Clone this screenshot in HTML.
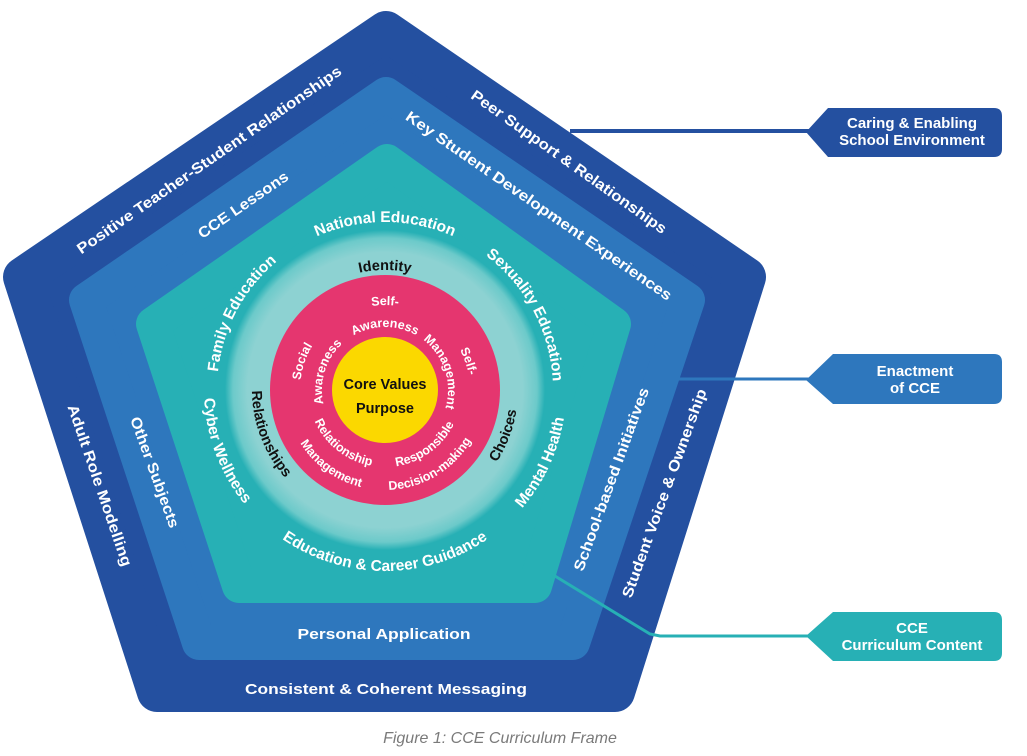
<!DOCTYPE html>
<html><head><meta charset="utf-8"><style>
html,body{margin:0;padding:0;background:#fff;width:1027px;height:756px;overflow:hidden}
svg{display:block}
text{font-family:"Liberation Sans",sans-serif;font-weight:bold}
</style></head><body>
<svg width="1027" height="756" viewBox="0 0 1027 756" xmlns="http://www.w3.org/2000/svg">
<defs>
<radialGradient id="glow" cx="50%" cy="50%" r="50%">
<stop offset="0.86" stop-color="#8dd2d2"/><stop offset="0.95" stop-color="#6ccaca"/><stop offset="1" stop-color="#27b0b5"/>
</radialGradient>
<path id="tT" d="M385,558 A168,168 0 1 1 385,222 A168,168 0 1 1 385,558"/>
<path id="tB" d="M385,209 A181,181 0 1 0 385,571 A181,181 0 1 0 385,209"/>
<path id="lT" d="M385,510 A120,120 0 1 1 385,270 A120,120 0 1 1 385,510"/>
<path id="lB" d="M385,257 A133,133 0 1 0 385,523 A133,133 0 1 0 385,257"/>
<path id="pT1" d="M385,475 A85,85 0 1 1 385,305 A85,85 0 1 1 385,475"/>
<path id="pT2" d="M385,453 A63,63 0 1 1 385,327 A63,63 0 1 1 385,453"/>
<path id="pB1" d="M385,313 A77,77 0 1 0 385,467 A77,77 0 1 0 385,313"/>
<path id="pB2" d="M385,290 A100,100 0 1 0 385,490 A100,100 0 1 0 385,290"/>
</defs>

<polygon points="386,31 23,277 157,692 615,692 746,277" fill="#2450a0" stroke="#2450a0" stroke-width="40" stroke-linejoin="round"/>
<polygon points="386,94 86,300 199,643 573,643 688,300" fill="#2e77bd" stroke="#2e77bd" stroke-width="34" stroke-linejoin="round"/>
<polygon points="387,161 153,324 239,586 535,586 614,324" fill="#27b0b5" stroke="#27b0b5" stroke-width="34" stroke-linejoin="round"/>

<circle cx="385" cy="390" r="160" fill="url(#glow)"/>
<circle cx="385" cy="390" r="115" fill="#e5366f"/>
<circle cx="385" cy="390" r="53" fill="#fbd800"/>

<line x1="570" y1="131" x2="815" y2="131" stroke="#2450a0" stroke-width="4"/>
<line x1="672" y1="379" x2="815" y2="379" stroke="#2e77bd" stroke-width="3"/>
<polyline points="550,573 650,634 660,636 815,636" fill="none" stroke="#27b0b5" stroke-width="3"/>

<path d="M806,132 L828,108 L994,108 Q1002,108 1002,116 L1002,149 Q1002,157 994,157 L828,157 Z" fill="#2450a0"/>
<text x="912" y="128" fill="#fff" font-size="15" text-anchor="middle">Caring &amp; Enabling</text>
<text x="912" y="145" fill="#fff" font-size="15" text-anchor="middle">School Environment</text>
<path d="M806,380 L833,354 L994,354 Q1002,354 1002,362 L1002,396 Q1002,404 994,404 L833,404 Z" fill="#2e77bd"/>
<text x="915" y="376" fill="#fff" font-size="15" text-anchor="middle">Enactment</text>
<text x="915" y="393" fill="#fff" font-size="15" text-anchor="middle">of CCE</text>
<path d="M806,636 L833,612 L994,612 Q1002,612 1002,620 L1002,653 Q1002,661 994,661 L833,661 Z" fill="#27b0b5"/>
<text x="912" y="633" fill="#fff" font-size="15" text-anchor="middle">CCE</text>
<text x="912" y="650" fill="#fff" font-size="15" text-anchor="middle">Curriculum Content</text>

<g fill="#fff" font-size="15" text-anchor="middle">
<text transform="translate(212,164) rotate(-34.7)" textLength="318" lengthAdjust="spacingAndGlyphs">Positive Teacher-Student Relationships</text>
<text transform="translate(566,166) rotate(35.4)" textLength="236" lengthAdjust="spacingAndGlyphs">Peer Support &amp; Relationships</text>
<text transform="translate(95,487) rotate(71)" textLength="170" lengthAdjust="spacingAndGlyphs">Adult Role Modelling</text>
<text transform="translate(669,495) rotate(-70)" textLength="221" lengthAdjust="spacingAndGlyphs">Student Voice &amp; Ownership</text>
<text x="386" y="694" textLength="282" lengthAdjust="spacingAndGlyphs">Consistent &amp; Coherent Messaging</text>

<text transform="translate(246,209) rotate(-34.6)" textLength="106" lengthAdjust="spacingAndGlyphs">CCE Lessons</text>
<text transform="translate(536,210) rotate(34.7)" textLength="320" lengthAdjust="spacingAndGlyphs">Key Student Development Experiences</text>
<text transform="translate(150,474) rotate(70)" textLength="117" lengthAdjust="spacingAndGlyphs">Other Subjects</text>
<text transform="translate(616,481) rotate(-70)" textLength="194" lengthAdjust="spacingAndGlyphs">School-based Initiatives</text>
<text x="384" y="639" textLength="173" lengthAdjust="spacingAndGlyphs">Personal Application</text>
</g>

<g fill="#fff" font-size="15.5" text-anchor="middle">
<text><textPath href="#tT" startOffset="50%">National Education</textPath></text>
<text><textPath href="#tT" startOffset="32.8%">Family Education</textPath></text>
<text><textPath href="#tT" startOffset="67.2%">Sexuality Education</textPath></text>
<text><textPath href="#tB" startOffset="30.8%">Cyber Wellness</textPath></text>
<text><textPath href="#tB" startOffset="68.1%">Mental Health</textPath></text>
<text><textPath href="#tB" startOffset="50%">Education &amp; Career Guidance</textPath></text>
</g>

<g fill="#111" font-size="14.5" text-anchor="middle">
<text><textPath href="#lT" startOffset="50%">Identity</textPath></text>
<text><textPath href="#lB" startOffset="30.8%">Relationships</textPath></text>
<text><textPath href="#lB" startOffset="69.2%">Choices</textPath></text>
</g>

<g fill="#fff" font-size="12.5" text-anchor="middle">
<text><textPath href="#pT1" startOffset="50%">Self-</textPath></text>
<text><textPath href="#pT2" startOffset="50%">Awareness</textPath></text>
<text><textPath href="#pT1" startOffset="30.3%">Social</textPath></text>
<text><textPath href="#pT2" startOffset="29.8%">Awareness</textPath></text>
<text><textPath href="#pT1" startOffset="69.7%">Self-</textPath></text>
<text><textPath href="#pT2" startOffset="70%">Management</textPath></text>
<text><textPath href="#pB1" startOffset="39.4%">Relationship</textPath></text>
<text><textPath href="#pB2" startOffset="40%">Management</textPath></text>
<text><textPath href="#pB1" startOffset="60%">Responsible</textPath></text>
<text><textPath href="#pB2" startOffset="58.6%">Decision-making</textPath></text>
</g>

<text x="385" y="389" fill="#111" font-size="14.5" text-anchor="middle">Core Values</text>
<text x="385" y="413" fill="#111" font-size="14.5" text-anchor="middle">Purpose</text>

<text x="500" y="743" fill="#7a7a7a" font-size="16" font-style="italic" style="font-weight:normal" text-anchor="middle">Figure 1: CCE Curriculum Frame</text>
</svg>
</body></html>
